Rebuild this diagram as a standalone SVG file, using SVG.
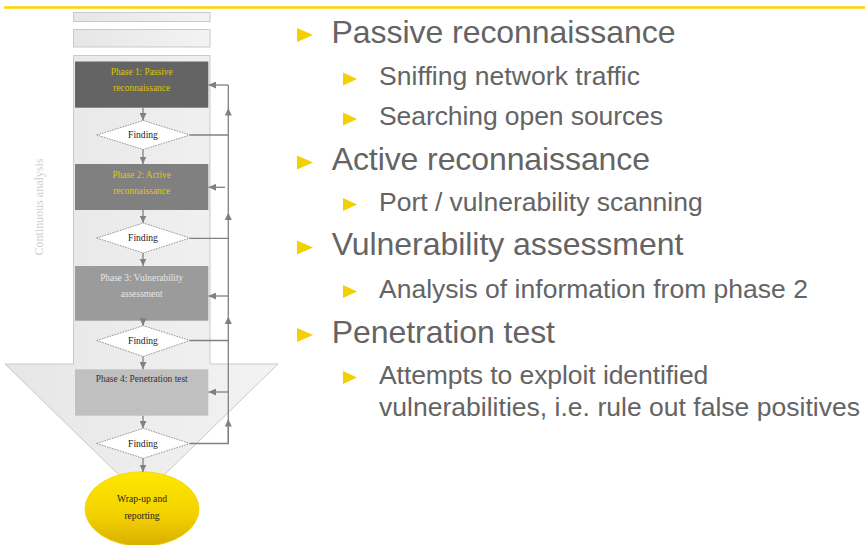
<svg xmlns="http://www.w3.org/2000/svg" width="865" height="545" viewBox="0 0 865 545">
  <defs>
    <linearGradient id="shaft" x1="0" y1="0" x2="1" y2="0">
      <stop offset="0" stop-color="#e6e6e6"/>
      <stop offset="1" stop-color="#f3f3f3"/>
    </linearGradient>
    <linearGradient id="gold" x1="0" y1="0" x2="0" y2="1">
      <stop offset="0" stop-color="#ffe800"/>
      <stop offset="0.6" stop-color="#f2d000"/>
      <stop offset="1" stop-color="#d8ae00"/>
    </linearGradient>
    <marker id="arr" markerUnits="userSpaceOnUse" markerWidth="8" markerHeight="7" refX="7.5" refY="3.5" orient="auto">
      <path d="M0,0 L7.5,3.5 L0,7 z" fill="#808080"/>
    </marker>
    <style>
      .frame { fill: url(#shaft); stroke: #c9c9c9; stroke-width: 1; }
      .phase-text { font-family: "Liberation Serif", "DejaVu Serif", serif; font-size: 9.4px; text-anchor: middle; }
      .find { fill: #ffffff; stroke: #8a8a8a; stroke-width: 0.9; stroke-dasharray: 1.6 1.1; }
      .find-text { font-family: "Liberation Serif", "DejaVu Serif", serif; font-size: 9.6px; text-anchor: middle; fill: #222; }
      .link { fill: none; stroke: #808080; stroke-width: 1.3; }
      .flow { fill: none; stroke: #808080; stroke-width: 1.3; marker-end: url(#arr); }
      .h1 { font-family: "Liberation Sans", Arial, sans-serif; font-size: 32px; fill: #646464; }
      .h2 { font-family: "Liberation Sans", Arial, sans-serif; font-size: 26.5px; fill: #646464; }
      .bullet { fill: #f4d000; }
    </style>
  </defs>

  <!-- header rule -->
  <line x1="4" y1="7.5" x2="865" y2="7.5" stroke="#ffd200" stroke-width="2.5"/>

  <!-- process arrow background -->
  <g id="process-arrow">
    <rect class="frame" x="73.5" y="12.5" width="136.5" height="9"/>
    <rect class="frame" x="73.5" y="29.5" width="136.5" height="17.5"/>
    <path class="frame" d="M73.5,55.5 H210 V364 H278 L141.5,497 L5,364 H73.5 Z"/>
    <text x="40" y="207" transform="rotate(-90 40 207)" font-family="'Liberation Serif', 'DejaVu Serif', serif" font-size="12" fill="#cfcfcf" text-anchor="middle" dominant-baseline="middle">Continuous analysis</text>
  </g>

  <!-- phases -->
  <g id="phase1">
    <rect x="75" y="61.5" width="133.3" height="46.2" fill="#646464"/>
    <text class="phase-text" x="141.7" y="75" fill="#dcc400">Phase 1: Passive</text>
    <text class="phase-text" x="141.7" y="91" fill="#dcc400">reconnaissance</text>
  </g>
  <g id="phase2">
    <rect x="75" y="164" width="133.3" height="46" fill="#808080"/>
    <text class="phase-text" x="141.7" y="177.5" fill="#e0c800">Phase 2: Active</text>
    <text class="phase-text" x="141.7" y="193.5" fill="#e0c800">reconnaissance</text>
  </g>
  <g id="phase3">
    <rect x="75" y="266" width="133.3" height="54.7" fill="#9b9b9b"/>
    <text class="phase-text" x="141.7" y="280.5" fill="#e6e6e6">Phase 3: Vulnerability</text>
    <text class="phase-text" x="141.7" y="296.5" fill="#e6e6e6">assessment</text>
  </g>
  <g id="phase4">
    <rect x="75" y="369.3" width="133.3" height="46.4" fill="#c0c0c0"/>
    <text class="phase-text" x="141.7" y="382" fill="#333333">Phase 4: Penetration test</text>
  </g>

  <!-- decision points -->
  <g id="finding1">
    <polygon class="find" points="96.7,135 143.3,120.5 190,135 143.3,149.5"/>
    <text class="find-text" x="143" y="138">Finding</text>
  </g>
  <g id="finding2">
    <polygon class="find" points="96.7,238 143.3,223 190,238 143.3,253"/>
    <text class="find-text" x="143" y="241">Finding</text>
  </g>
  <g id="finding3">
    <polygon class="find" points="96.7,340.5 143.3,325.7 190,340.5 143.3,356.5"/>
    <text class="find-text" x="143" y="343.5">Finding</text>
  </g>
  <g id="finding4">
    <polygon class="find" points="96.7,443.5 143.3,428.3 190,443.5 143.3,458.3"/>
    <text class="find-text" x="143" y="446.5">Finding</text>
  </g>

  <!-- final step -->
  <g id="wrapup">
    <ellipse cx="142" cy="509" rx="57" ry="37.3" fill="url(#gold)" stroke="#f0d400" stroke-width="0.8"/>
    <text class="find-text" x="142" y="502">Wrap-up and</text>
    <text class="find-text" x="142" y="518.5">reporting</text>
  </g>

  <!-- connectors -->
  <g id="connectors">
    <path class="flow" d="M143,107.7 V120.5"/>
    <path class="flow" d="M143,149.5 V164"/>
    <path class="flow" d="M143,210 V223"/>
    <path class="flow" d="M143,253 V266"/>
    <path class="flow" d="M143,318 V325.7"/>
    <path class="flow" d="M143,356.5 V369.3"/>
    <path class="flow" d="M143,415.7 V428.3"/>
    <path class="flow" d="M143,458.3 V472"/>

    <path class="link" d="M190,135 H228.3"/>
    <path class="link" d="M190,238.3 H228.3"/>
    <path class="link" d="M190,340.5 H228.3"/>
    <path class="link" d="M190,443.5 H228.3 V420"/>

    <path class="flow" d="M228.3,444 V419"/>
    <path class="flow" d="M228.3,419 V316.5"/>
    <path class="flow" d="M228.3,316.5 V212.5"/>
    <path class="flow" d="M228.3,212.5 V108"/>
    <path class="link" d="M228.3,108 V85"/>

    <path class="flow" d="M228.3,85 H208.5"/>
    <path class="flow" d="M225,187.3 H208.5"/>
    <path class="flow" d="M228.3,296 H208.5"/>
    <path class="flow" d="M228.3,392 H208.5"/>
  </g>

  <!-- bullet list -->
  <g id="bullets">
    <polygon class="bullet" points="297,28 313,35 297,42"/>
    <text class="h1" x="331.5" y="42.7" textLength="344" lengthAdjust="spacing">Passive reconnaissance</text>
    <polygon class="bullet" points="343,72.5 357,79 343,85.5"/>
    <text class="h2" x="379" y="85" textLength="261" lengthAdjust="spacing">Sniffing network traffic</text>
    <polygon class="bullet" points="343,112.5 357,119 343,125.5"/>
    <text class="h2" x="379" y="125" textLength="284" lengthAdjust="spacing">Searching open sources</text>

    <polygon class="bullet" points="297,155.5 313,162.5 297,169.5"/>
    <text class="h1" x="331.7" y="170" textLength="318.3" lengthAdjust="spacing">Active reconnaissance</text>
    <polygon class="bullet" points="343,198 357,204.5 343,211"/>
    <text class="h2" x="379" y="210.5" textLength="323.7" lengthAdjust="spacing">Port / vulnerability scanning</text>

    <polygon class="bullet" points="297,240.5 313,247.5 297,254.5"/>
    <text class="h1" x="331.7" y="255" textLength="351.6" lengthAdjust="spacing">Vulnerability assessment</text>
    <polygon class="bullet" points="343,285 357,291.5 343,298"/>
    <text class="h2" x="379" y="297.5" textLength="429" lengthAdjust="spacing">Analysis of information from phase 2</text>

    <polygon class="bullet" points="297,328 313,335 297,342"/>
    <text class="h1" x="331.7" y="342.5" textLength="223.3" lengthAdjust="spacing">Penetration test</text>
    <polygon class="bullet" points="343,371 357,377.5 343,384"/>
    <text class="h2" x="379" y="383.5" textLength="329.3" lengthAdjust="spacing">Attempts to exploit identified</text>
    <text class="h2" x="379" y="415.5" textLength="481" lengthAdjust="spacing">vulnerabilities, i.e. rule out false positives</text>
  </g>
</svg>
